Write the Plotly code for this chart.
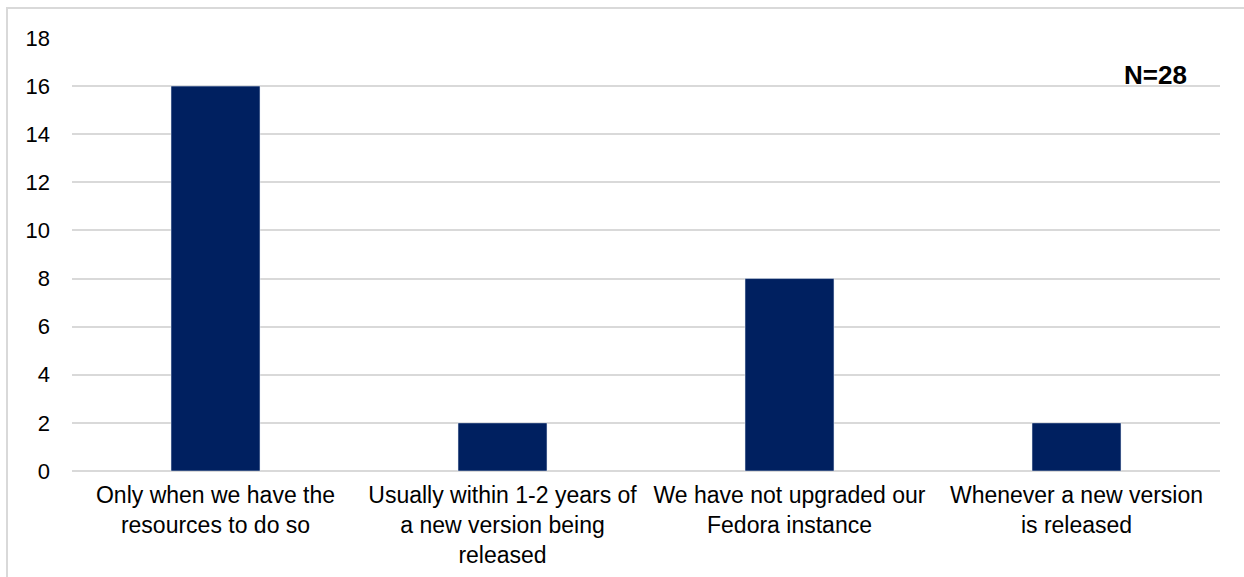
import plotly.graph_objects as go

categories = [
    "Only when we have the<br>resources to do so",
    "Usually within 1-2 years of<br>a new version being<br>released",
    "We have not upgraded our<br>Fedora instance",
    "Whenever a new version<br>is released",
]
counts = [16, 2, 8, 2]
tick_vals = [0, 2, 4, 6, 8, 10, 12, 14, 16, 18]

W, H = 1244, 577
L, R, T, B = 72, 24, 38, 106
pw, ph = W - L - R, H - T - B

def px(x):
    return (x - L) / pw

def py(y):
    return (H - B - y) / ph

fig = go.Figure(go.Bar(
    x=categories, y=counts, marker_color="#002060", width=0.31,
))

fig.update_layout(
    width=W, height=H,
    margin=dict(l=L, r=R, t=T, b=B, autoexpand=False),
    plot_bgcolor="white", paper_bgcolor="white",
    font=dict(family="Liberation Sans, Arial", color="#000000"),
    showlegend=False,
    bargap=0.69,
    xaxis=dict(tickfont=dict(size=23), showgrid=False, showline=False, ticks="",
               ticklabelstandoff=8),
    yaxis=dict(range=[0, 18], tickvals=tick_vals, tickfont=dict(size=22),
               showgrid=True, gridcolor="#d9d9d9", gridwidth=2,
               zeroline=True, zerolinecolor="#d9d9d9", zerolinewidth=2,
               showline=False, ticks="", ticklabelstandoff=21),
    shapes=[dict(type="rect", xref="paper", yref="paper",
                 x0=px(7), x1=px(1260), y0=py(600), y1=py(8),
                 line=dict(color="#d9d9d9", width=2), layer="below")],
    annotations=[dict(text="<b>N=28</b>", xref="paper", yref="paper",
                      x=px(1155), y=py(75), xanchor="center", yanchor="middle",
                      showarrow=False,
                      font=dict(size=26, color="#000000"))],
)

fig.write_html("out.html")
